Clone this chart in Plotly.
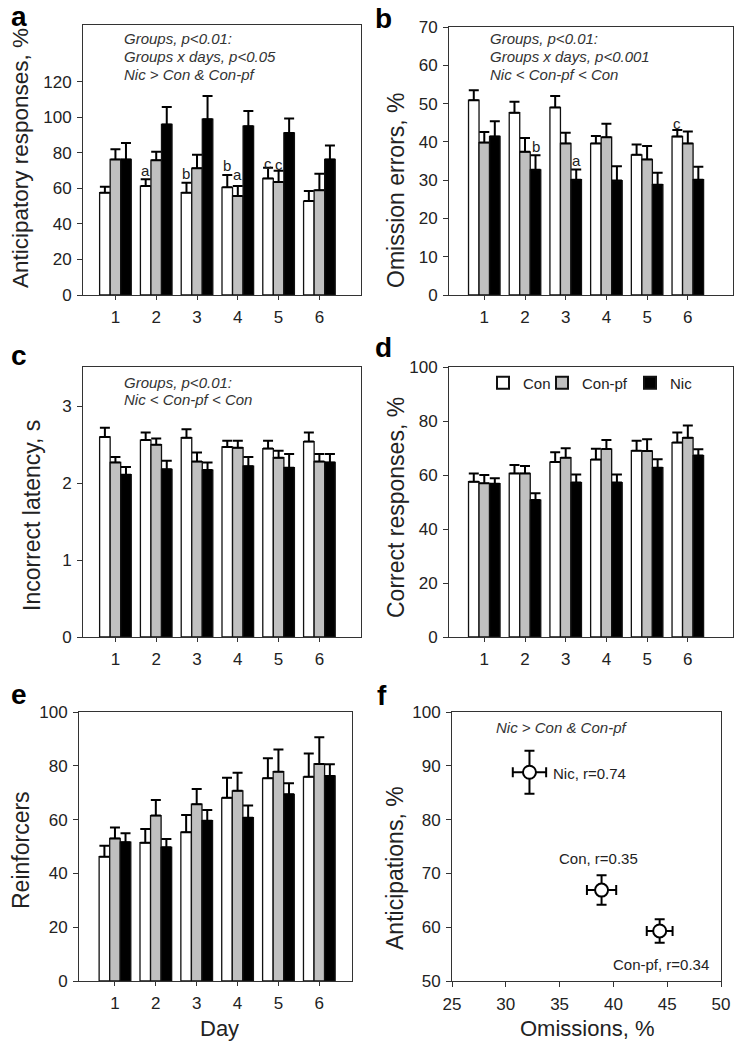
import plotly.graph_objects as go

W, H = 739, 1049

days = [1, 2, 3, 4, 5, 6]
groups = ["Con", "Con-pf", "Nic"]

# a: anticipatory responses, %
a_con = [57.6, 61.3, 57.6, 60.6, 65.6, 52.9]
a_con_err = [3.4, 3.9, 5.6, 6.9, 6.0, 5.6]
a_pf = [76.3, 75.9, 71.4, 55.7, 63.6, 59.0]
a_pf_err = [5.7, 4.7, 7.6, 5.6, 6.3, 9.2]
a_nic = [76.3, 96.0, 99.0, 95.0, 91.2, 76.3]
a_nic_err = [9.3, 9.8, 13.0, 8.6, 8.2, 7.8]

# b: omission errors, %
b_con = [50.9, 47.6, 49.0, 39.6, 36.6, 41.4]
b_con_err = [2.6, 2.9, 3.0, 1.9, 2.7, 1.7]
b_pf = [39.8, 37.4, 39.6, 41.2, 35.4, 39.6]
b_pf_err = [2.8, 3.6, 2.8, 3.5, 3.5, 3.1]
b_nic = [41.4, 32.7, 30.1, 29.9, 28.8, 30.1]
b_nic_err = [4.0, 3.8, 2.7, 3.7, 3.1, 3.4]

# c: incorrect latency, s
c_con = [2.60, 2.56, 2.59, 2.47, 2.45, 2.54]
c_con_err = [0.12, 0.10, 0.11, 0.08, 0.10, 0.12]
c_pf = [2.27, 2.50, 2.28, 2.46, 2.33, 2.28]
c_pf_err = [0.07, 0.08, 0.12, 0.09, 0.09, 0.10]
c_nic = [2.11, 2.18, 2.17, 2.22, 2.20, 2.27]
c_nic_err = [0.10, 0.11, 0.10, 0.12, 0.18, 0.11]

# d: correct responses, %
d_con = [57.5, 60.6, 64.8, 65.7, 69.0, 72.0]
d_con_err = [3.1, 3.1, 3.6, 4.0, 3.7, 3.7]
d_pf = [56.9, 60.6, 66.4, 69.6, 68.9, 73.8]
d_pf_err = [3.1, 2.7, 3.5, 3.4, 4.3, 4.5]
d_nic = [56.8, 50.7, 57.2, 57.2, 62.7, 67.2]
d_nic_err = [2.0, 2.5, 3.0, 3.0, 3.1, 2.3]

# e: reinforcers
e_con = [46.2, 51.4, 55.3, 68.1, 75.4, 75.9]
e_con_err = [4.1, 5.1, 6.4, 7.5, 7.4, 8.7]
e_pf = [53.0, 61.5, 65.7, 70.7, 77.8, 80.7]
e_pf_err = [4.1, 5.8, 5.7, 6.7, 8.3, 9.9]
e_nic = [51.6, 49.7, 59.6, 60.7, 69.4, 76.2]
e_nic_err = [3.3, 3.1, 4.0, 4.5, 4.1, 4.4]

# f: anticipations vs omissions
f_groups = ["Nic", "Con", "Con-pf"]
f_omis = [32.2, 38.9, 44.3]
f_omis_err = [1.55, 1.36, 1.2]
f_antic = [88.8, 66.9, 59.3]
f_antic_err = [4.0, 2.75, 2.2]
f_labels = ["Nic, r=0.74", "Con, r=0.35", "Con-pf, r=0.34"]
f_label_x = [34.2, 38.6, 44.4]
f_label_y = [88.6, 72.8, 53.0]

# significance letters: (letter, day, group index, y)
letters_a = [("a", 2, 0, 70.3), ("b", 3, 0, 68.4), ("b", 4, 0, 73.0),
             ("a", 4, 1, 67.9), ("c", 5, 0, 73.8), ("c", 5, 1, 73.3)]
letters_b = [("b", 2, 2, 38.7), ("a", 3, 2, 35.1), ("c", 6, 0, 44.7)]

stats_a = ["Groups, p<0.01:", "Groups x days, p<0.05", "Nic > Con & Con-pf"]
stats_b = ["Groups, p<0.01:", "Groups x days, p<0.001", "Nic < Con-pf < Con"]
stats_c = ["Groups, p<0.01:", "Nic < Con-pf < Con"]
stats_f = ["Nic > Con & Con-pf"]

FONT = "Liberation Sans, Arial, sans-serif"
fills = ["#ffffff", "#c0c0c0", "#000000"]
BARGAP = 0.225
BW = (1 - BARGAP) / 3


def px(x):
    return x / W


def py(y):
    return 1 - y / H


# panel boxes in pixels: (left, right, top, bottom)
boxes = {
    1: (83, 361, 25, 295),
    2: (449, 733, 27, 295),
    3: (83, 361, 367, 637),
    4: (449, 733, 367, 637),
    5: (79, 352, 712, 981),
    6: (452, 721, 712, 981),
}
xranges = {1: [0.205, 7.02], 2: [0.133, 7.11], 3: [0.205, 7.02],
           4: [0.133, 7.11], 5: [0.12, 6.80], 6: [25, 50]}
yranges = {1: [0, 152], 2: [0, 70], 3: [0, 3.51], 4: [0, 100], 5: [0, 100], 6: [50, 100]}
ytickvals = {1: [0, 20, 40, 60, 80, 100, 120], 2: [0, 10, 20, 30, 40, 50, 60, 70],
             3: [0, 1, 2, 3], 4: [0, 20, 40, 60, 80, 100], 5: [0, 20, 40, 60, 80, 100],
             6: [50, 60, 70, 80, 90, 100]}

fig = go.Figure()

panels = {
    1: [(a_con, a_con_err), (a_pf, a_pf_err), (a_nic, a_nic_err)],
    2: [(b_con, b_con_err), (b_pf, b_pf_err), (b_nic, b_nic_err)],
    3: [(c_con, c_con_err), (c_pf, c_pf_err), (c_nic, c_nic_err)],
    4: [(d_con, d_con_err), (d_pf, d_pf_err), (d_nic, d_nic_err)],
    5: [(e_con, e_con_err), (e_pf, e_pf_err), (e_nic, e_nic_err)],
}
legend_names = ["legend", "legend2", "legend3"]
for p, series in panels.items():
    sfx = "" if p == 1 else str(p)
    for gi, (vals, errs) in enumerate(series):
        fig.add_trace(go.Bar(
            x=days, y=vals, name=groups[gi],
            marker=dict(color=fills[gi], line=dict(color="#111111", width=1.3)),
            error_y=dict(type="data", array=errs, arrayminus=[0] * len(errs),
                         symmetric=False, color="#000000", thickness=2, width=5),
            xaxis="x" + sfx, yaxis="y" + sfx,
            offsetgroup=str(gi),
            showlegend=(p == 4), legend=legend_names[gi],
        ))

fig.add_trace(go.Scatter(
    x=f_omis, y=f_antic, mode="markers",
    marker=dict(symbol="circle", size=13, color="#ffffff", line=dict(color="#000000", width=2)),
    error_x=dict(type="data", array=f_omis_err, color="#000000", thickness=2, width=5),
    error_y=dict(type="data", array=f_antic_err, color="#000000", thickness=2, width=5),
    xaxis="x6", yaxis="y6", showlegend=False,
))

axis_common = dict(showline=True, linecolor="#333333", linewidth=1, mirror=True,
                   zeroline=False, showgrid=False, automargin=False,
                   tickfont=dict(family=FONT, size=17, color="#222222"),
                   ticks="outside", ticklen=5, tickcolor="#333333", tickwidth=1)

layout = dict(
    width=W, height=H, margin=dict(l=0, r=0, t=0, b=0, autoexpand=False),
    paper_bgcolor="white", plot_bgcolor="white",
    barmode="group", bargap=BARGAP, bargroupgap=0,
    font=dict(family=FONT, color="#222222"),
)

for p, (l, r, t, b) in boxes.items():
    sfx = "" if p == 1 else str(p)
    xa = dict(axis_common)
    xa.update(domain=[px(l), px(r)], range=xranges[p], anchor="y" + sfx,
              ticklabelstandoff=3)
    if p < 6:
        xa.update(tickvals=days, ticktext=[str(d) for d in days], ticklen=4)
    else:
        xa.update(tickvals=[25, 30, 35, 40, 45, 50], ticklen=5)
    ya = dict(axis_common)
    ya.update(domain=[py(b), py(t)], range=yranges[p], anchor="x" + sfx,
              tickvals=ytickvals[p], ticklabelstandoff=2)
    layout["xaxis" + sfx] = xa
    layout["yaxis" + sfx] = ya

# legend (panel d)
leg_x = [483, 542, 630]
for i, name in enumerate(legend_names):
    layout[name] = dict(x=px(leg_x[i]), y=py(383), xanchor="left", yanchor="middle",
                        bgcolor="rgba(0,0,0,0)", borderwidth=0,
                        font=dict(family=FONT, size=15, color="#222222"),
                        itemsizing="constant")

fig.update_layout(**layout)

ann = []
# panel letters
for lab, (x, y) in zip("abcdef", [(9, 17), (373, 18), (9, 355), (373, 347), (9, 694), (375, 695)]):
    ann.append(dict(text=lab, x=px(x), y=py(y), xref="paper", yref="paper",
                    xanchor="left", yanchor="middle", showarrow=False,
                    font=dict(family=FONT, size=28, color="#000000", weight="bold")))

# y titles
ytitles = [("Anticipatory responses, %", 20, 158, 22.5), ("Omission errors, %", 396, 190, 23),
           ("Incorrect latency, s", 32, 516, 23), ("Correct responses, %", 396, 508, 23),
           ("Reinforcers", 21, 850, 23), ("Anticipations, %", 395, 868, 23)]
for txt, x, y, fs in ytitles:
    ann.append(dict(text=txt, x=px(x), y=py(y), xref="paper", yref="paper",
                    xanchor="center", yanchor="middle", textangle=-90, showarrow=False,
                    font=dict(family=FONT, size=fs, color="#222222")))
# x titles
for txt, x, y in [("Day", 219, 1028), ("Omissions, %", 587, 1028)]:
    ann.append(dict(text=txt, x=px(x), y=py(y), xref="paper", yref="paper",
                    xanchor="center", yanchor="middle", showarrow=False,
                    font=dict(family=FONT, size=22, color="#222222")))


# stats text
def stats(lines, x0, y0, dy=17.5):
    for i, s in enumerate(lines):
        ann.append(dict(text=s, x=px(x0), y=py(y0 + i * dy), xref="paper", yref="paper",
                        xanchor="left", yanchor="middle", showarrow=False,
                        font=dict(family=FONT, size=15, color="#333333", style="italic")))


stats(stats_a, 122, 39)
stats(stats_b, 488, 39)
stats(stats_c, 122, 382)
stats(stats_f, 494, 727)

# significance letters
for sfx, letters in [("", letters_a), ("2", letters_b)]:
    for lab, day, gi, y in letters:
        ann.append(dict(text=lab, x=day + (gi - 1) * BW, y=y, xref="x" + sfx, yref="y" + sfx,
                        xanchor="center", yanchor="middle", showarrow=False,
                        font=dict(family=FONT, size=15, color="#222222")))

# scatter labels
for i, s in enumerate(f_labels):
    ann.append(dict(text=s, x=f_label_x[i], y=f_label_y[i], xref="x6", yref="y6",
                    xanchor="center" if i else "left", yanchor="middle", showarrow=False,
                    font=dict(family=FONT, size=15, color="#222222")))

fig.update_layout(annotations=ann)
fig.write_html("out.html", config={"displayModeBar": False},
               post_script="document.body.style.margin='0px';")
